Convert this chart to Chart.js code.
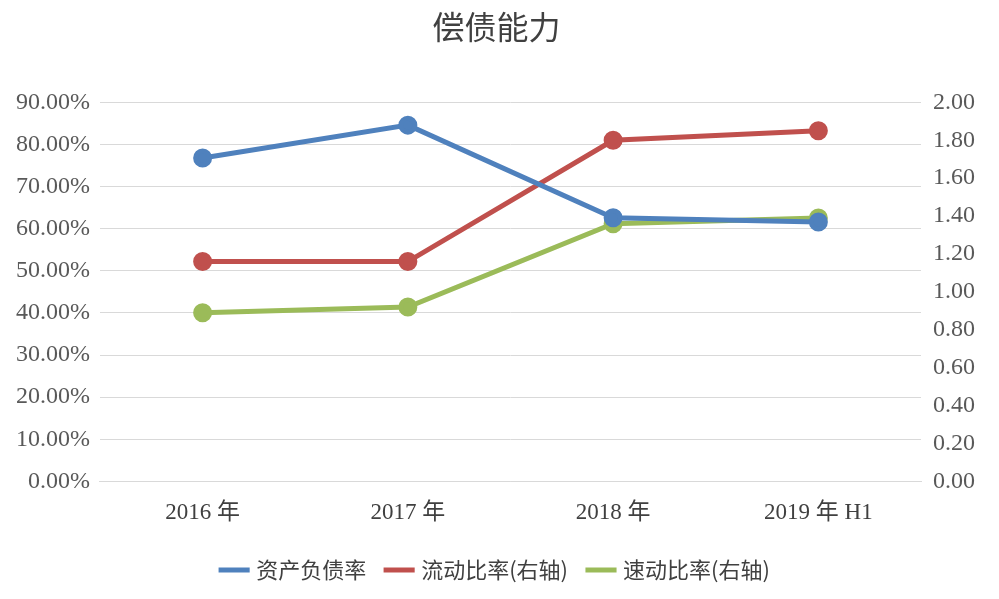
<!DOCTYPE html>
<html><head><meta charset="utf-8">
<script src="https://cdn.jsdelivr.net/npm/chart.js@4"></script>
<style>body{margin:0;background:#fff}#wrap{width:999px;height:599px}</style>
</head><body><div id="wrap"><canvas id="c"></canvas></div>
<script>
// 数据
const categories = ['2016 年', '2017 年', '2018 年', '2019 年 H1'];
const debtRatio = [76.8, 84.6, 62.6, 61.6];
const currentRatio = [1.16, 1.16, 1.80, 1.85];
const quickRatio = [0.89, 0.92, 1.36, 1.39];

const font = "'Liberation Serif', 'Noto Sans CJK SC', serif";
Chart.defaults.font.family = font;
Chart.defaults.color = '#595959';

function ds(label, data, color, axis) {
    return { label, data, borderColor: color, backgroundColor: color, borderWidth: 5,
        pointRadius: 7, pointHoverRadius: 7, yAxisID: axis, tension: 0 };
}

new Chart(document.getElementById('c'), {
    type: 'line',
    data: {
        labels: categories,
        datasets: [
            ds('资产负债率', debtRatio, '#4f81bd', 'y'),
            ds('流动比率(右轴)', currentRatio, '#c0504d', 'y1'),
            ds('速动比率(右轴)', quickRatio, '#9bbb59', 'y1')
        ]
    },
    options: {
        responsive: true, maintainAspectRatio: false, animation: false,
        layout: { padding: { left: 6, right: 12, top: 8, bottom: 8 } },
        plugins: {
            title: { display: true, text: '偿债能力', color: '#404040',
                font: { size: 32, family: "'Noto Sans CJK SC', sans-serif", weight: 'normal' }, padding: { bottom: 56 } },
            legend: { position: 'bottom', labels: { usePointStyle: true, pointStyle: 'line', boxWidth: 60, padding: 22,
                color: '#404040', font: { size: 22, family: "'Noto Sans CJK SC', serif" } } },
            tooltip: { enabled: false }
        },
        scales: {
            x: { offset: true, grid: { display: false }, border: { color: '#d9d9d9' },
                ticks: { font: { size: 23 }, color: '#404040', padding: 10 } },
            y: { min: 0, max: 90, position: 'left',
                ticks: { stepSize: 10, font: { size: 24 }, color: '#595959', padding: 10, callback: v => v.toFixed(2) + '%' },
                grid: { color: '#d9d9d9', drawTicks: false }, border: { display: false } },
            y1: { min: 0, max: 2, position: 'right',
                ticks: { stepSize: 0.2, font: { size: 24 }, color: '#595959', padding: 12, callback: v => v.toFixed(2) },
                grid: { drawOnChartArea: false, drawTicks: false }, border: { display: false } }
        }
    }
});
</script></body></html>
